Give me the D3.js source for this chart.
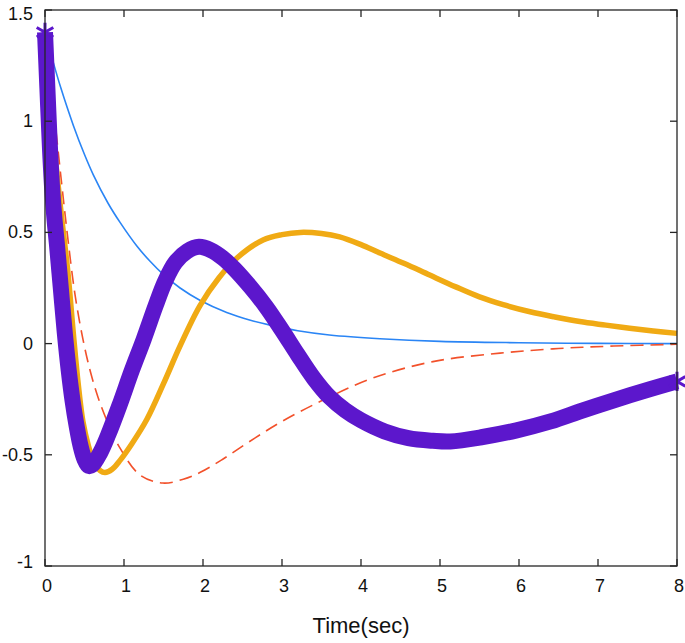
<!DOCTYPE html>
<html>
<head>
<meta charset="utf-8">
<script src="https://cdn.jsdelivr.net/npm/d3@7/dist/d3.min.js"></script>
<style>
  html, body { margin: 0; padding: 0; background: #fff; }
  svg { display: block; font-family: "Liberation Sans", Arial, sans-serif; }
</style>
</head>
<body>
<svg id="chart" width="685" height="643"></svg>
<script>
// ---- data ----
const xTicks = [0, 1, 2, 3, 4, 5, 6, 7, 8];
const yTicks = [-1, -0.5, 0, 0.5, 1, 1.5];
const yTickLabels = ["-1", "-0.5", "0", "0.5", "1", "1.5"];
const xLabel = "Time(sec)";

const blueT = [0, 0.1, 0.2, 0.36, 0.5, 0.61, 0.8, 0.95, 1.16, 1.33, 1.5, 1.71, 1.96, 2.3, 2.6, 2.85, 3.2, 3.6, 4.24, 5, 6, 7, 8];
const blueV = [1.4, 1.27, 1.15, 0.98, 0.85, 0.76, 0.63, 0.545, 0.44, 0.37, 0.31, 0.25, 0.195, 0.14, 0.105, 0.083, 0.058, 0.039, 0.022, 0.01, 0.004, 0.001, 0.0];

const redT = [0, 0.08, 0.15, 0.22, 0.29, 0.38, 0.48, 0.57, 0.67, 0.8, 0.95, 1.2, 1.49, 1.75, 1.96, 2.25, 2.59, 3.0, 3.52, 4.15, 4.91, 5.76, 6.5, 7.2, 8.0];
const redV = [1.4, 1.15, 0.92, 0.69, 0.47, 0.22, 0.02, -0.12, -0.24, -0.36, -0.47, -0.59, -0.627, -0.61, -0.58, -0.52, -0.44, -0.35, -0.254, -0.155, -0.081, -0.043, -0.022, -0.011, -0.003];

const orangeT = [0, 0.1, 0.2, 0.29, 0.36, 0.42, 0.48, 0.55, 0.62, 0.7, 0.76, 0.85, 0.95, 1.1, 1.29, 1.5, 1.71, 1.96, 2.2, 2.43, 2.76, 3.0, 3.23, 3.5, 3.73, 4.0, 4.24, 4.55, 4.87, 5.2, 5.5, 5.8, 6.14, 6.45, 6.77, 7.1, 7.4, 7.7, 8.0];
const orangeV = [1.4, 0.95, 0.6, 0.32, 0.04, -0.18, -0.35, -0.46, -0.535, -0.572, -0.58, -0.565, -0.525, -0.45, -0.34, -0.18, -0.01, 0.17, 0.295, 0.385, 0.466, 0.49, 0.5, 0.495, 0.48, 0.445, 0.407, 0.36, 0.308, 0.255, 0.21, 0.175, 0.143, 0.12, 0.099, 0.083, 0.069, 0.057, 0.046];

const purpleT = [0, 0.03, 0.06, 0.09, 0.12, 0.15, 0.2, 0.25, 0.3, 0.35, 0.4, 0.45, 0.5, 0.55, 0.6, 0.7, 0.8, 0.94, 1.1, 1.25, 1.4, 1.52, 1.65, 1.8, 1.95, 2.1, 2.25, 2.4, 2.6, 2.8, 3.0, 3.2, 3.4, 3.6, 3.8, 4.0, 4.3, 4.6, 4.91, 5.13, 5.54, 5.97, 6.4, 6.81, 7.2, 7.66, 8.0];
const purpleV = [1.4, 1.15, 0.9, 0.7, 0.56, 0.45, 0.25, 0.05, -0.12, -0.26, -0.37, -0.46, -0.52, -0.55, -0.545, -0.49, -0.41, -0.28, -0.12, 0.02, 0.17, 0.28, 0.365, 0.415, 0.435, 0.42, 0.385, 0.335, 0.255, 0.165, 0.06, -0.05, -0.155, -0.24, -0.3, -0.345, -0.395, -0.425, -0.437, -0.44, -0.42, -0.39, -0.35, -0.3, -0.255, -0.205, -0.17];

// ---- layout ----
const svg = d3.select("#chart");
const L = 45, R = 677, T = 10, B = 566;
const x = d3.scaleLinear().domain([0, 8]).range([L, R]);
const y = d3.scaleLinear().domain([-1, 1.5]).range([B, T]);

const zip = (ts, vs) => ts.map((t, i) => [t, vs[i]]);
const line = d3.line().x(d => x(d[0])).y(d => y(d[1])).curve(d3.curveCatmullRom.alpha(0.5));

const plot = svg.append("g");
plot.append("path").datum(zip(blueT, blueV)).attr("d", line)
  .attr("fill", "none").attr("stroke", "#2a85f5").attr("stroke-width", 1.6);
plot.append("path").datum(zip(redT, redV)).attr("d", line)
  .attr("fill", "none").attr("stroke", "#f2512b").attr("stroke-width", 1.6)
  .attr("stroke-dasharray", "13,7");
plot.append("path").datum(zip(orangeT, orangeV)).attr("d", line)
  .attr("fill", "none").attr("stroke", "#f0aa14").attr("stroke-width", 5.5)
  .attr("stroke-linejoin", "round");
plot.append("path").datum(zip(purpleT, purpleV)).attr("d", line)
  .attr("fill", "none").attr("stroke", "#5c17cc").attr("stroke-width", 16)
  .attr("stroke-linejoin", "round");
// asterisk markers at the ends of the purple series
const ends = [[purpleT[0], purpleV[0]], [purpleT[purpleT.length - 1], purpleV[purpleV.length - 1]]];
plot.selectAll("path.mk").data(ends).join("path").attr("class", "mk")
  .attr("d", d3.symbol().type(d3.symbolAsterisk).size(260))
  .attr("transform", d => `translate(${x(d[0])},${y(d[1])})`)
  .attr("fill", "none").attr("stroke", "#5c17cc").attr("stroke-width", 3);

// ---- frame and ticks ----
const axisColor = "#262626";
const frame = svg.append("g");
frame.append("rect").attr("x", L).attr("y", T).attr("width", R - L).attr("height", B - T)
  .attr("fill", "none").attr("stroke", axisColor).attr("stroke-width", 1.3);

const tickLen = 7;
frame.selectAll("line.xb").data(xTicks).join("line").attr("class", "xb")
  .attr("x1", d => x(d)).attr("x2", d => x(d)).attr("y1", B).attr("y2", B - tickLen)
  .attr("stroke", axisColor).attr("stroke-width", 1.3);
frame.selectAll("line.xt").data(xTicks).join("line").attr("class", "xt")
  .attr("x1", d => x(d)).attr("x2", d => x(d)).attr("y1", T).attr("y2", T + tickLen)
  .attr("stroke", axisColor).attr("stroke-width", 1.3);
frame.selectAll("line.yl").data(yTicks).join("line").attr("class", "yl")
  .attr("x1", L).attr("x2", L + tickLen).attr("y1", d => y(d)).attr("y2", d => y(d))
  .attr("stroke", axisColor).attr("stroke-width", 1.3);
frame.selectAll("line.yr").data(yTicks).join("line").attr("class", "yr")
  .attr("x1", R).attr("x2", R - tickLen).attr("y1", d => y(d)).attr("y2", d => y(d))
  .attr("stroke", axisColor).attr("stroke-width", 1.3);

// tick labels
svg.selectAll("text.xl").data(xTicks).join("text").attr("class", "xl")
  .attr("x", d => x(d) + 2).attr("y", 592)
  .attr("text-anchor", "middle").attr("font-size", 18).attr("fill", "#111")
  .text(d => String(d));
svg.selectAll("text.yl").data(yTicks).join("text").attr("class", "yl")
  .attr("x", 33).attr("y", (d, i) => y(d) + 6 + (d === 1.5 ? 4 : 0) + (d === -1 ? -4 : 0))
  .attr("text-anchor", "end").attr("font-size", 18).attr("fill", "#111")
  .text((d, i) => yTickLabels[i]);

svg.append("text").attr("x", (L + R) / 2).attr("y", 633)
  .attr("text-anchor", "middle").attr("font-size", 22).attr("fill", "#111")
  .text(xLabel);
</script>
</body>
</html>
